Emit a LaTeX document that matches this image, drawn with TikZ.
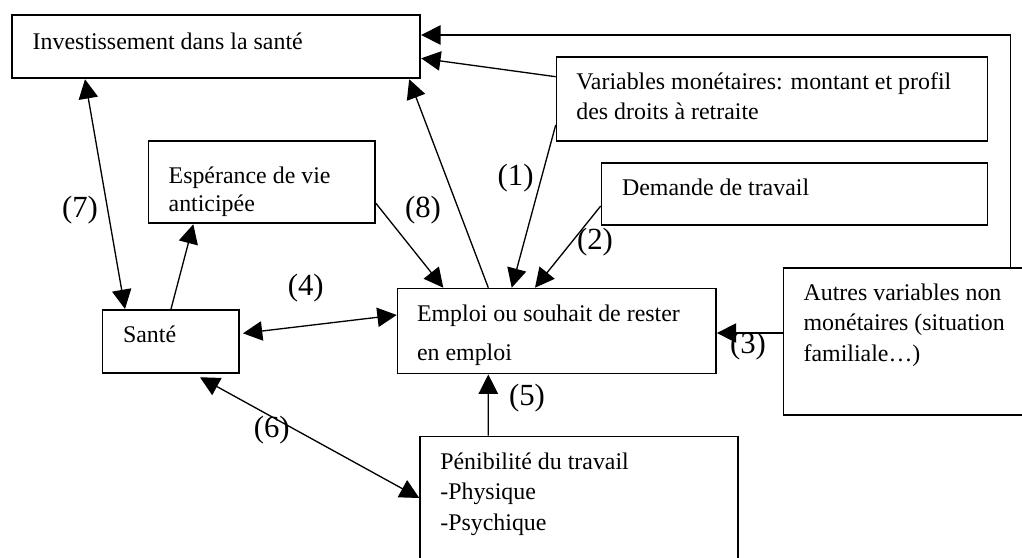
\documentclass[tikz,border=0pt]{standalone}
\usepackage{fontspec}
\setmainfont{Liberation Serif}
\usetikzlibrary{arrows.meta,calc}

\tikzset{
  box/.style={draw, line width=1pt, anchor=north west, inner sep=0pt},
  txt/.style={anchor=base west, inner sep=0pt, align=left, font=\fontsize{13.6}{17}\selectfont},
  num/.style={inner sep=0pt, font=\fontsize{17.5}{20}\selectfont},
  arr/.style={-{Triangle[length=11pt,width=11pt]}, line width=0.75pt},
  darr/.style={{Triangle[length=11pt,width=11pt]}-{Triangle[length=11pt,width=11pt]}, line width=0.75pt}
}

\begin{document}
\begin{tikzpicture}[x=0.02cm, y=-0.02cm]
  \clip (0,0) rectangle (1022,558);

  % boxes
  \node[box, minimum width=8.17cm, minimum height=1.27cm] (inv) at (11,14) {};
  \node[box, minimum width=8.62cm, minimum height=1.68cm] (varmon) at (555.7,56) {};
  \node[box, minimum width=7.72cm, minimum height=1.23cm] (demande) at (600.7,162.3) {};
  \node[box, minimum width=4.53cm, minimum height=1.65cm] (esper) at (147.7,140) {};
  \node[box, minimum width=2.73cm, minimum height=1.27cm] (sante) at (101.7,309) {};
  \node[box, minimum width=6.37cm, minimum height=1.70cm] (emploi) at (396.7,287.7) {};
  \node[box, minimum width=5.40cm, minimum height=2.94cm] (autres) at (782.7,267.3) {};
  \node[box, minimum width=6.36cm, minimum height=3.00cm] (penib) at (419.3,435.7) {};

  % texts (base = last line)
  \node[txt] (inv-t) at (32.3,49.3) {Investissement dans la santé};
  \node[txt] (varmon-t) at (576,119.3) {Variables monétaires: montant et profil\\des droits à retraite};
  \node[txt] (demande-t) at (621.7,195) {Demande de travail};
  \node[txt, font=\fontsize{13.6}{16.1}\selectfont] (esper-t) at (168.3,211.7) {Espérance de vie\\anticipée};
  \node[txt] (sante-t) at (122.7,342.3) {Santé};
  \node[txt, font=\fontsize{13.6}{22}\selectfont] (emploi-t) at (416.7,360) {Emploi ou souhait de rester\\en emploi};
  \node[txt, font=\fontsize{13.6}{17.5}\selectfont] (autres-t) at (803.3,361.7) {Autres variables non\\monétaires (situation\\familiale…)};
  \node[txt, font=\fontsize{13.6}{17.2}\selectfont] (penib-t) at (440,530) {Pénibilité du travail\\-Physique\\-Psychique};

  % links
  \draw[arr] ($(autres.north west)+(228,0)$) |- ($(inv.north east)+(0,21)$);
  \draw[arr] ($(varmon.north west)+(0,20.7)$) -- ($(inv.north east)+(0,44.3)$);
  \draw[arr] ($(varmon.north west)+(0,69)$) -- ($(emploi.north west)+(115,0)$);
  \draw[arr] ($(demande.north west)+(0,43.7)$) -- ($(emploi.north west)+(138.3,0)$);
  \draw[arr] ($(emploi.north west)+(91.6,0)$) -- ($(inv.south east)+(-12,0)$);
  \draw[arr] ($(esper.north east)+(0,63.3)$) -- ($(emploi.north west)+(46.6,0)$);
  \draw[darr] ($(inv.south west)+(74,0)$) -- ($(sante.north west)+(23.3,0)$);
  \draw[arr] ($(sante.north west)+(69.3,0)$) -- ($(esper.south west)+(45.6,0)$);
  \draw[darr] ($(sante.north east)+(3,24.3)$) -- ($(emploi.north west)+(0,27.3)$);
  \draw[darr] ($(sante.south west)+(98.3,3)$) -- ($(penib.north west)+(0,62.3)$);
  \draw[arr] ($(penib.north west)+(69,0)$) -- ($(emploi.south west)+(91.6,0)$);
  \draw[arr] ($(autres.north west)+(0,65.7)$) -- ($(emploi.north east)+(0,45.3)$);

  % numbers
  \node[num] (n1) at (515.6,178) {(1)};
  \node[num] (n2) at (595,241.7) {(2)};
  \node[num] (n3) at (748,346) {(3)};
  \node[num] (n4) at (305.7,288) {(4)};
  \node[num] (n5) at (527,398) {(5)};
  \node[num] (n6) at (271.7,430) {(6)};
  \node[num] (n7) at (80,210) {(7)};
  \node[num] (n8) at (423,210) {(8)};
\end{tikzpicture}
\end{document}
